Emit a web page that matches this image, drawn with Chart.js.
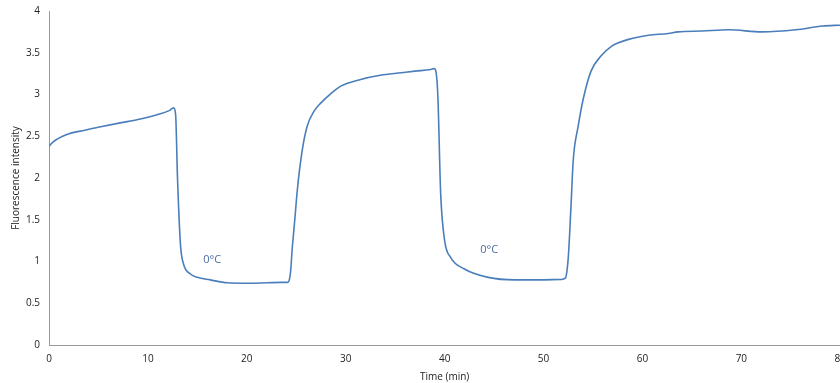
<!DOCTYPE html>
<html>
<head>
<meta charset="utf-8">
<script src="https://cdn.jsdelivr.net/npm/chart.js@4.4.1/dist/chart.umd.min.js"></script>
<style>
  html, body { margin: 0; padding: 0; background: #fff; overflow: hidden; }
  #wrap { width: 850px; height: 383px; }
</style>
</head>
<body>
<div id="wrap"><canvas id="chLine"></canvas></div>
<script>
// time in minutes, fluorescence
var times = [0, 0.4, 1.8, 3.5, 5.1, 7.2, 9, 11, 12.2, 12.6, 12.8, 13.0, 13.3, 13.6, 14.3, 15, 16.3, 18, 20, 22, 23.5, 24.1,
  24.4, 24.6, 24.85, 25.1, 25.6, 26.1, 26.8, 27.5, 28.5, 29.5, 31.5, 33.5, 35.6, 37, 38.6, 38.95,
  39.3, 39.6, 40.0, 40.6, 42, 44.4, 47.1, 49.5, 51.8, 52.2, 52.5, 52.75, 53.0, 53.5, 54.0, 54.8,
  55.8, 56.9, 58.6, 60.6, 62.6, 63.6, 66, 68.7, 72.1, 75.5, 78.2, 80];
var intensity = [2.38, 2.43, 2.52, 2.57, 2.61, 2.66, 2.70, 2.76, 2.81, 2.84, 2.76, 1.97, 1.19, 0.97, 0.85, 0.81, 0.78, 0.745, 0.74, 0.745, 0.75, 0.75,
  0.85, 1.17, 1.50, 1.85, 2.33, 2.62, 2.80, 2.90, 3.01, 3.10, 3.18, 3.23, 3.26, 3.28, 3.30, 3.31,
  3.02, 1.81, 1.25, 1.05, 0.91, 0.81, 0.78, 0.78, 0.785, 0.80, 1.05, 1.60, 2.21, 2.62, 2.94, 3.28,
  3.46, 3.58, 3.66, 3.71, 3.73, 3.75, 3.76, 3.775, 3.75, 3.775, 3.82, 3.83];
var noteTimes = [16.5, 44.5];
var noteValues = [1.02, 1.14];
var noteText = ['0°C', '0°C'];

var points = times.map(function(t, i){ return {x: t, y: intensity[i]}; });

var notes = {
  id: 'notes',
  afterDatasetsDraw: function(chart){
    var ctx = chart.ctx, sx = chart.scales.x, sy = chart.scales.y;
    ctx.save();
    ctx.font = '11px "Open Sans"';
    ctx.fillStyle = '#4a6fa5';
    ctx.textAlign = 'center';
    ctx.textBaseline = 'middle';
    for (var i = 0; i < noteText.length; i++) {
      ctx.fillText(noteText[i], sx.getPixelForValue(noteTimes[i]), sy.getPixelForValue(noteValues[i]));
    }
    ctx.restore();
  }
};

var axisFont = {family: '"Open Sans"', size: 10};
new Chart(document.getElementById('chLine'), {
  type: 'line',
  data: {
    datasets: [{
      data: points,
      borderColor: '#4a7ebb',
      borderWidth: 1.6,
      pointRadius: 0,
      cubicInterpolationMode: 'monotone',
      fill: false
    }]
  },
  options: {
    responsive: true,
    maintainAspectRatio: false,
    animation: false,
    layout: {padding: {top: 10, right: 6, left: 10, bottom: 0}},
    plugins: {legend: {display: false}, tooltip: {enabled: false}},
    scales: {
      x: {
        type: 'linear', min: 0, max: 80,
        ticks: {stepSize: 10, color: '#222', font: axisFont, padding: 4, maxRotation: 0},
        grid: {display: false, drawOnChartArea: false, tickLength: 4, color: '#888'},
        border: {color: '#999'},
        title: {display: true, text: 'Time (min)', color: '#222', font: axisFont, padding: {top: 2, bottom: 0}}
      },
      y: {
        min: 0, max: 4,
        ticks: {stepSize: 0.5, color: '#222', font: axisFont, padding: 5,
          callback: function(v){ return String(v); }},
        grid: {display: false, drawOnChartArea: false, tickLength: 4, color: '#888'},
        border: {color: '#999'},
        title: {display: true, text: 'Fluorescence intensity', color: '#222', font: axisFont, padding: {top: 0, bottom: 4}},
        afterFit: function(s){ s.width = 39; }
      }
    }
  },
  plugins: [notes]
});
</script>
</body>
</html>
